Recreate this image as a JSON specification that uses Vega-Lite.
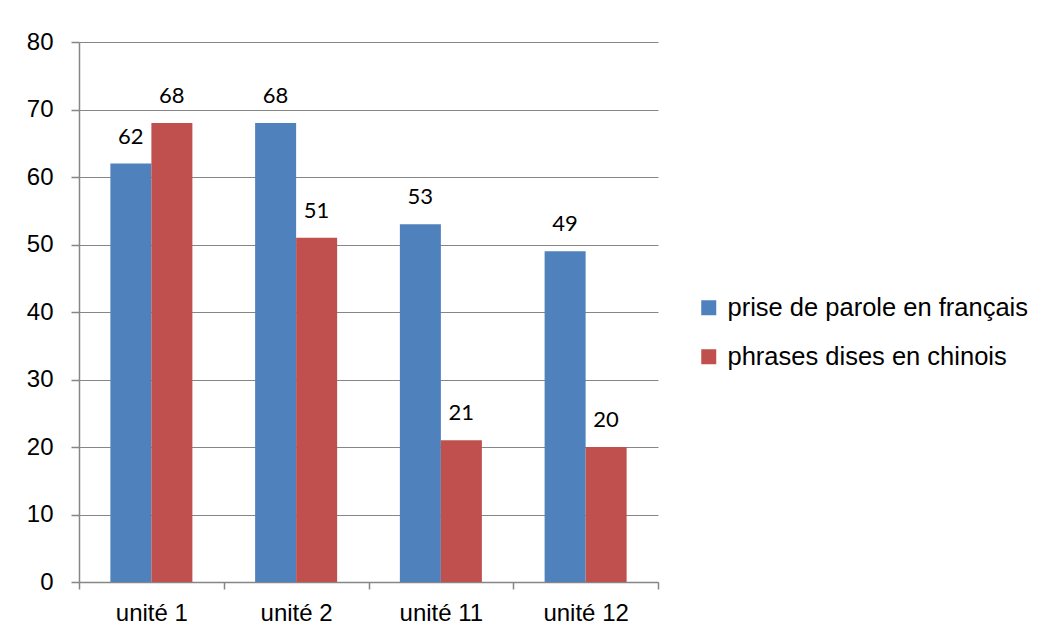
{
  "$schema": "https://vega.github.io/schema/vega-lite/v6.json",
  "autosize": {"type": "none"},
  "padding": {"left": 79, "top": 42, "right": 393, "bottom": 57},
  "width": 579,
  "height": 540,
  "background": "white",
  "config": {"view": {"stroke": null}},
  "data": {"values": [
    {"unite": "unité 1", "serie": "prise de parole en français", "valeur": 62},
    {"unite": "unité 1", "serie": "phrases dises en chinois", "valeur": 68},
    {"unite": "unité 2", "serie": "prise de parole en français", "valeur": 68},
    {"unite": "unité 2", "serie": "phrases dises en chinois", "valeur": 51},
    {"unite": "unité 11", "serie": "prise de parole en français", "valeur": 53},
    {"unite": "unité 11", "serie": "phrases dises en chinois", "valeur": 21},
    {"unite": "unité 12", "serie": "prise de parole en français", "valeur": 49},
    {"unite": "unité 12", "serie": "phrases dises en chinois", "valeur": 20}
  ]},
  "encoding": {
    "x": {"field": "unite", "type": "nominal", "sort": ["unité 1", "unité 2", "unité 11", "unité 12"],
      "scale": {"paddingInner": 0, "paddingOuter": 0},
      "axis": {"title": null, "labelAngle": 0, "tickBand": "extent", "domainColor": "#868686", "domainWidth": 1.5, "tickColor": "#868686", "tickWidth": 1.5, "tickSize": 7, "labelFont": "Liberation Sans", "labelFontSize": 24, "labelColor": "#000000", "labelPadding": 12}},
    "xOffset": {"field": "serie", "type": "nominal", "sort": ["prise de parole en français", "phrases dises en chinois"],
      "scale": {"paddingInner": 0, "paddingOuter": 0.765}},
    "y": {"field": "valeur", "type": "quantitative",
      "scale": {"domain": [0, 80], "nice": false},
      "axis": {"title": null, "values": [0, 10, 20, 30, 40, 50, 60, 70, 80], "gridColor": "#868686", "gridWidth": 1.2, "domainColor": "#868686", "domainWidth": 1.5, "tickColor": "#868686", "tickWidth": 1.5, "tickSize": 8, "labelFont": "Liberation Sans", "labelFontSize": 24, "labelColor": "#000000", "labelPadding": 18}}
  },
  "layer": [
    {
      "mark": {"type": "bar"},
      "encoding": {
        "color": {"field": "serie", "type": "nominal", "sort": ["prise de parole en français", "phrases dises en chinois"],
          "scale": {"range": ["#4F81BD", "#C0504D"]},
          "legend": {"title": null, "orient": "none", "legendX": 617, "legendY": 253, "symbolType": "square", "symbolSize": 225, "symbolStrokeWidth": 0, "labelFont": "Liberation Sans", "labelFontSize": 25.5, "labelColor": "#000000", "labelOffset": 6, "rowPadding": 22, "labelLimit": 420}}
      }
    },
    {
      "mark": {"type": "text", "baseline": "alphabetic", "dy": -20, "font": "Lato", "fontSize": 22, "color": "#000000"},
      "encoding": {"text": {"field": "valeur", "type": "quantitative"}}
    }
  ]
}
